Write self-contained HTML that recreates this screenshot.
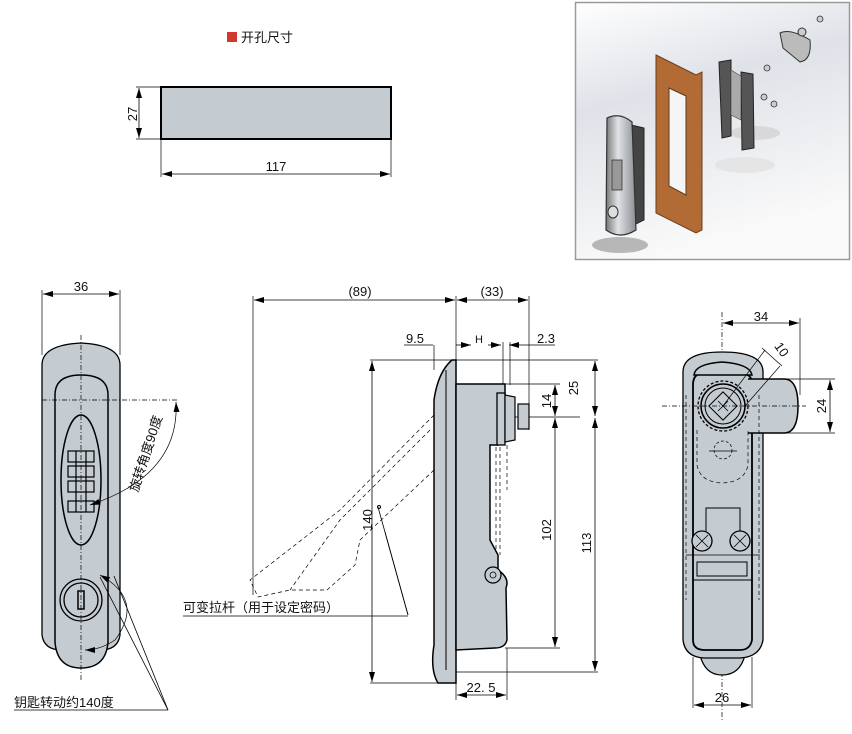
<!DOCTYPE html>
<html><head><meta charset="utf-8"><style>
html,body{margin:0;padding:0;background:#fff;width:852px;height:734px;overflow:hidden}
svg{display:block}
text{font-family:"Liberation Sans","Noto Sans CJK SC",sans-serif;fill:#111}
</style></head><body>
<svg width="852" height="734" viewBox="0 0 852 734" xmlns="http://www.w3.org/2000/svg">
<defs>
<marker id="a" viewBox="0 0 10 6" refX="10" refY="3" markerWidth="10" markerHeight="6" orient="auto-start-reverse" markerUnits="userSpaceOnUse"><path d="M0,0 L10,3 L0,6 z" fill="#000"/></marker>
<linearGradient id="bg" x1="0" y1="0" x2="0.3" y2="1"><stop offset="0" stop-color="#fff"/><stop offset="0.4" stop-color="#dfe2e8"/><stop offset="1" stop-color="#fafafa"/></linearGradient>
<linearGradient id="lt" x1="0" y1="0" x2="1" y2="0"><stop offset="0" stop-color="#777"/><stop offset="0.4" stop-color="#e0e2e6"/><stop offset="1" stop-color="#8a8d92"/></linearGradient>
</defs>
<g stroke="#000" fill="none">
<!-- top-left cutout -->
<rect x="227" y="32" width="10" height="10" fill="#d03a2e" stroke="none"/>
<rect x="161" y="87" width="230" height="52" fill="#c4ccd1" stroke-width="2"/>
<line x1="136" y1="87" x2="161" y2="87" stroke-width="0.7"/>
<line x1="136" y1="139" x2="161" y2="139" stroke-width="0.7"/>
<line x1="139" y1="88" x2="139" y2="138" stroke-width="0.8" marker-start="url(#a)" marker-end="url(#a)"/>
<line x1="161" y1="139" x2="161" y2="177" stroke-width="0.7"/>
<line x1="391" y1="139" x2="391" y2="177" stroke-width="0.7"/>
<line x1="162" y1="174" x2="390" y2="174" stroke-width="0.8" marker-start="url(#a)" marker-end="url(#a)"/>

<!-- photo -->
<rect x="575.5" y="2.5" width="274" height="257" fill="url(#bg)" stroke="#9a9a9a" stroke-width="1.5"/>
<ellipse cx="620" cy="245" rx="28" ry="8" fill="#777" stroke="none" opacity="0.5"/>
<ellipse cx="755" cy="133" rx="25" ry="7" fill="#ccc" stroke="none" opacity="0.6"/>
<ellipse cx="745" cy="165" rx="30" ry="8" fill="#ddd" stroke="none" opacity="0.6"/>
<path d="M656,55 L696,75 L702,72 L702,230 L696,233 L656,213 z" fill="#b36b35" stroke="#6a3d1c" stroke-width="1"/>
<path d="M669,88 L686,96 L686,195 L669,186 z" fill="#f5f5f5" stroke="#5a3a1a"/>
<path d="M631,125 L644,128 L644,220 L634,225 z" fill="#444" stroke="#222"/>
<path d="M607,118 Q620,112 632,122 L636,230 Q620,240 606,230 z" fill="url(#lt)" stroke="#333" stroke-width="1.2"/>
<rect x="612" y="160" width="10" height="30" fill="#999" stroke="#333" stroke-width="0.8"/>
<ellipse cx="613" cy="212" rx="5" ry="6" fill="#ddd" stroke="#333"/>
<path d="M719,62 L731,60 L731,136 L722,138 z" fill="#555" stroke="#222"/>
<path d="M741,72 L753,74 L754,148 L742,150 z" fill="#555" stroke="#222"/>
<path d="M731,70 L741,76 L741,120 L731,115 z" fill="#aaa" stroke="#444" stroke-width="0.6"/>
<path d="M780,33 Q790,28 810,40 Q812,60 800,62 L783,48 z" fill="#bbb" stroke="#333"/>
<circle cx="802" cy="32" r="4" fill="#ccc" stroke="#333"/>
<g fill="#ccc" stroke="#333" stroke-width="0.8"><circle cx="820" cy="19" r="3"/><circle cx="767" cy="68" r="3"/><circle cx="764" cy="97" r="3"/><circle cx="774" cy="104" r="3"/></g>

<!-- left view -->
<line x1="42" y1="290" x2="42" y2="355" stroke-width="0.7"/>
<line x1="120" y1="290" x2="120" y2="355" stroke-width="0.7"/>
<line x1="43" y1="294" x2="119" y2="294" stroke-width="0.8" marker-start="url(#a)" marker-end="url(#a)"/>
<path d="M42,365 Q42,345 81,343 Q120,345 120,365 L120,635 Q118,650 100,650 L62,650 Q44,650 42,635 z" fill="#c4ccd1" stroke-width="1.3"/>
<path d="M55,395 Q55,375 81,375 Q108,375 108,395 L108,642 Q106,668 81,668 Q57,668 55,642 z" fill="#c4ccd1" stroke-width="1.5"/>
<ellipse cx="81" cy="480" rx="20" ry="65" stroke-width="1.5"/>
<g stroke-width="1.2"><rect x="68" y="451" width="26" height="11"/><rect x="68" y="466" width="26" height="11"/><rect x="68" y="481" width="26" height="11"/><rect x="68" y="501" width="26" height="11"/>
<line x1="76" y1="451" x2="76" y2="512"/><line x1="86" y1="451" x2="86" y2="512"/></g>
<circle cx="81" cy="600" r="21" stroke-width="1.3"/><circle cx="81" cy="600" r="17" stroke-width="1.3"/>
<rect x="78" y="591" width="6" height="18" stroke-width="1.5"/>
<line x1="81" y1="335" x2="81" y2="680" stroke-width="0.7" stroke-dasharray="5,2,1,2"/>
<line x1="42" y1="400" x2="178" y2="400" stroke-width="0.7" stroke-dasharray="5,2,1,2"/>
<path d="M176,402 Q180,475 90,505" stroke-width="0.7" marker-start="url(#a)" marker-end="url(#a)"/>
<path d="M100,575 Q145,600 115,640 Q100,650 85,650" stroke-width="0.7" marker-start="url(#a)" marker-end="url(#a)"/>
<line x1="14" y1="710" x2="168" y2="710" stroke-width="0.8"/>
<line x1="168" y1="710" x2="114" y2="576" stroke-width="0.8"/>
<line x1="168" y1="710" x2="100" y2="577" stroke-width="0.8"/>

<!-- middle view -->
<line x1="253" y1="296" x2="253" y2="595" stroke-width="0.7"/>
<line x1="456" y1="296" x2="456" y2="700" stroke-width="0.7"/>
<line x1="529" y1="296" x2="529" y2="430" stroke-width="0.7"/>
<line x1="254" y1="300" x2="455" y2="300" stroke-width="0.8" marker-start="url(#a)" marker-end="url(#a)"/>
<line x1="457" y1="300" x2="528" y2="300" stroke-width="0.8" marker-start="url(#a)" marker-end="url(#a)"/>
<line x1="404" y1="345" x2="433" y2="345" stroke-width="0.8"/>
<line x1="434" y1="345" x2="434" y2="370" stroke-width="0.7"/>
<line x1="456" y1="345" x2="471" y2="345" stroke-width="0.8" marker-end="url(#a)"/>
<line x1="488" y1="345" x2="501" y2="345" stroke-width="0.8" marker-end="url(#a)"/>
<line x1="503" y1="342" x2="503" y2="385" stroke-width="0.7"/>
<line x1="510" y1="342" x2="510" y2="385" stroke-width="0.7"/>
<line x1="509" y1="345" x2="555" y2="345" stroke-width="0.8" marker-start="url(#a)"/>
<line x1="370" y1="360" x2="598" y2="360" stroke-width="0.7"/>
<line x1="370" y1="683" x2="440" y2="683" stroke-width="0.7"/>
<line x1="372" y1="361" x2="372" y2="682" stroke-width="0.8" marker-start="url(#a)" marker-end="url(#a)"/>
<line x1="505" y1="384" x2="560" y2="384" stroke-width="0.7"/>
<line x1="500" y1="417" x2="580" y2="417" stroke-width="0.7"/>
<line x1="505" y1="648" x2="560" y2="648" stroke-width="0.7"/>
<line x1="455" y1="672" x2="598" y2="672" stroke-width="0.7"/>
<line x1="555" y1="385" x2="555" y2="416" stroke-width="0.8" marker-start="url(#a)" marker-end="url(#a)"/>
<line x1="555" y1="418" x2="555" y2="647" stroke-width="0.8" marker-start="url(#a)" marker-end="url(#a)"/>
<line x1="595" y1="361" x2="595" y2="416" stroke-width="0.8" marker-start="url(#a)" marker-end="url(#a)"/>
<line x1="595" y1="418" x2="595" y2="671" stroke-width="0.8" marker-start="url(#a)" marker-end="url(#a)"/>
<line x1="507" y1="648" x2="507" y2="700" stroke-width="0.7"/>
<line x1="457" y1="695" x2="506" y2="695" stroke-width="0.8" marker-start="url(#a)" marker-end="url(#a)"/>
<!-- lever dashed -->
<g stroke-width="0.7" stroke-dasharray="4,3">
<path d="M434,415 L340,510 L250,580 L258,597 L290,590"/>
<path d="M430,430 L340,520 L290,590"/>
<path d="M434,470 L360,540 L355,565 L327,590 L290,590"/>
<line x1="456" y1="417" x2="530" y2="417"/>
<path d="M458,405 L488,400 L488,608"/>
<path d="M488,608 Q488,610 470,610 L460,608"/>
<line x1="496" y1="440" x2="496" y2="555"/><line x1="500" y1="440" x2="500" y2="555"/>
<line x1="507" y1="445" x2="507" y2="490"/>
</g>
<path d="M438,683 Q430,670 434,645 L434,400 Q438,372 452,360 L456,360 L456,683 z" fill="#c4ccd1" stroke-width="1.5"/>
<line x1="446" y1="370" x2="446" y2="670" stroke-width="1"/>
<path d="M456,384 L505,384 L505,402 L498,402 L498,445 L490,445 L490,540 L498,555 L498,570 Q510,578 506,588 L507,640 Q505,648 495,648 L456,650 z" fill="#c4ccd1" stroke-width="1.5"/>
<rect x="497" y="393" width="8" height="52" fill="#c4ccd1" stroke-width="1.3"/>
<path d="M505,395 L515,397 L515,440 L505,442 z" fill="#c4ccd1" stroke-width="1.2"/>
<rect x="518" y="404" width="11" height="25" fill="#c4ccd1" stroke-width="1.2"/>
<circle cx="493" cy="575" r="8" fill="#c4ccd1" stroke-width="1.2"/><circle cx="493" cy="575" r="3" stroke-width="0.8"/>
<line x1="408" y1="615" x2="378" y2="507" stroke-width="0.8"/>
<line x1="408" y1="615" x2="385" y2="532" stroke-width="0.8"/>
<line x1="183" y1="616" x2="408" y2="616" stroke-width="0.8"/>
<circle cx="379" cy="507" r="1.5"/>

<!-- right view -->
<line x1="722" y1="312" x2="722" y2="720" stroke-width="0.7" stroke-dasharray="5,2,1,2"/>
<line x1="800" y1="318" x2="800" y2="395" stroke-width="0.7"/>
<line x1="723" y1="323" x2="799" y2="323" stroke-width="0.8" marker-start="url(#a)" marker-end="url(#a)"/>
<path d="M700,655 Q705,675 722,675 Q740,675 745,655 z" fill="#c4ccd1" stroke-width="1.3"/>
<path d="M683,372 Q683,352 722,352 Q763,352 763,372 L763,640 Q760,657 740,658 L704,658 Q685,657 683,640 z" fill="#c4ccd1" stroke-width="1.3"/>
<path d="M693,385 Q693,375 700,374 L745,374 Q752,375 752,385 L752,640 Q750,650 740,650 L705,650 Q693,650 693,640 z" fill="none" stroke-width="1.8"/>
<path d="M694,375 Q695,364 722,362 Q750,364 752,375 z" fill="#c4ccd1" stroke-width="1.5"/>
<path d="M748,379 L785,379 Q798,380 798,406 Q798,432 785,433 L748,433" fill="#c4ccd1" stroke-width="1.5"/>
<line x1="780" y1="379" x2="835" y2="379" stroke-width="0.7"/>
<line x1="780" y1="433" x2="835" y2="433" stroke-width="0.7"/>
<line x1="830" y1="380" x2="830" y2="432" stroke-width="0.8" marker-start="url(#a)" marker-end="url(#a)"/>
<circle cx="723" cy="406" r="25" fill="#c4ccd1" stroke-width="1.3" stroke-dasharray="3,2"/>
<circle cx="723" cy="406" r="22" fill="#c4ccd1" stroke-width="1.5"/>
<circle cx="723" cy="406" r="18" stroke-width="1"/>
<rect x="713" y="396" width="20" height="20" transform="rotate(45 723 406)" stroke-width="1"/>
<path d="M718,401 L728,411 M728,401 L718,411" stroke-width="0.8"/>
<line x1="662" y1="406" x2="806" y2="406" stroke-width="0.7" stroke-dasharray="5,2,1,2"/>
<line x1="723" y1="406" x2="765" y2="350" stroke-width="0.7"/>
<line x1="745" y1="406" x2="780" y2="366" stroke-width="0.7"/>
<line x1="762" y1="348" x2="782" y2="366" stroke-width="0.7"/>
<circle cx="723" cy="450" r="9" stroke-width="0.7" stroke-dasharray="3,2"/>
<line x1="709" y1="451" x2="737" y2="451" stroke-width="0.8"/>
<path d="M697,430 L697,465 Q700,482 722,483 Q745,482 748,465 L748,430" stroke-width="0.7" stroke-dasharray="4,3"/>
<line x1="686" y1="395" x2="686" y2="600" stroke-width="0.7" stroke-dasharray="4,3"/>
<line x1="759" y1="395" x2="759" y2="600" stroke-width="0.7" stroke-dasharray="4,3"/>
<path d="M706,531 L706,508 L740,508 L740,531" stroke-width="1"/>
<circle cx="702" cy="541" r="10" fill="#c4ccd1" stroke-width="1.3"/><circle cx="740" cy="541" r="10" fill="#c4ccd1" stroke-width="1.3"/>
<path d="M696,535 L708,547 M708,535 L696,547 M734,535 L746,547 M746,535 L734,547" stroke-width="0.8"/>
<line x1="686" y1="555" x2="760" y2="555" stroke-width="0.8"/>
<rect x="697" y="562" width="50" height="14" stroke-width="1"/>
<line x1="693" y1="580" x2="752" y2="580" stroke-width="1"/>
<line x1="693" y1="657" x2="693" y2="708" stroke-width="0.7"/>
<line x1="752" y1="657" x2="752" y2="708" stroke-width="0.7"/>
<line x1="694" y1="705" x2="751" y2="705" stroke-width="0.8" marker-start="url(#a)" marker-end="url(#a)"/>
</g>
<g font-size="13">
<text x="241" y="42" font-size="13">开孔尺寸</text>
<text x="137" y="114" transform="rotate(-90 137 114)" text-anchor="middle">27</text>
<text x="276" y="171" text-anchor="middle">117</text>
<text x="81" y="291" text-anchor="middle">36</text>
<text x="150" y="455" transform="rotate(-72 150 455)" text-anchor="middle">旋转角度90度</text>
<text x="14" y="707">钥匙转动约140度</text>
<text x="360" y="296" text-anchor="middle">(89)</text>
<text x="492" y="296" text-anchor="middle">(33)</text>
<text x="415" y="343" text-anchor="middle">9.5</text>
<text x="479" y="343" text-anchor="middle" font-size="11">H</text>
<text x="546" y="343" text-anchor="middle">2.3</text>
<text x="372" y="520" transform="rotate(-90 372 520)" text-anchor="middle">140</text>
<text x="578" y="388" transform="rotate(-90 578 388)" text-anchor="middle">25</text>
<text x="551" y="401" transform="rotate(-90 551 401)" text-anchor="middle">14</text>
<text x="551" y="530" transform="rotate(-90 551 530)" text-anchor="middle">102</text>
<text x="591" y="543" transform="rotate(-90 591 543)" text-anchor="middle">113</text>
<text x="481" y="692" text-anchor="middle">22. 5</text>
<text x="183" y="612">可变拉杆（用于设定密码）</text>
<text x="761" y="321" text-anchor="middle">34</text>
<text x="778" y="352" transform="rotate(55 778 352)" text-anchor="middle">10</text>
<text x="826" y="406" transform="rotate(-90 826 406)" text-anchor="middle">24</text>
<text x="722" y="702" text-anchor="middle">26</text>
</g>
</svg>
</body></html>
